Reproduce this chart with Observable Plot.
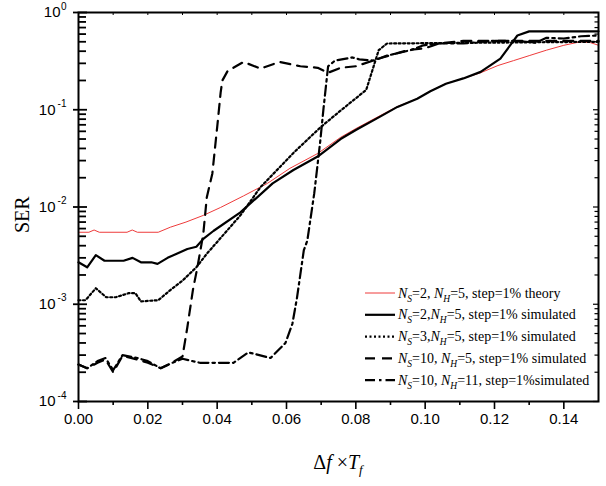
<!DOCTYPE html>
<html><head><meta charset="utf-8">
<script src="https://cdn.jsdelivr.net/npm/d3@7"></script>
<script src="https://cdn.jsdelivr.net/npm/@observablehq/plot@0.6"></script>
<style>body{margin:0;background:#fff}</style>
</head><body><div id="chart"></div>
<script>
// ---- data ----
const theoryX = [0, 0.003, 0.0045, 0.006, 0.014, 0.0155, 0.017, 0.023, 0.0265, 0.031, 0.036, 0.041, 0.0476, 0.0545, 0.061, 0.069, 0.0756, 0.080, 0.087, 0.092, 0.0977, 0.1015, 0.106, 0.111, 0.116, 0.121, 0.1255, 0.130, 0.135, 0.140, 0.1448, 0.1477, 0.150];
const theoryY = [5.5e-3, 5.5e-3, 5.8e-3, 5.5e-3, 5.5e-3, 5.8e-3, 5.5e-3, 5.5e-3, 6.2e-3, 7.0e-3, 8.2e-3, 9.9e-3, 0.013, 0.0175, 0.025, 0.0355, 0.052, 0.064, 0.087, 0.108, 0.13, 0.156, 0.186, 0.21, 0.24, 0.285, 0.32, 0.36, 0.41, 0.46, 0.50, 0.49, 0.46];

const ns2X = [0, 0.0025, 0.005, 0.0075, 0.013, 0.0156, 0.018, 0.021, 0.0228, 0.0257, 0.0314, 0.034, 0.036, 0.039, 0.0467, 0.056, 0.062, 0.069, 0.0756, 0.080, 0.087, 0.092, 0.0977, 0.1015, 0.106, 0.111, 0.116, 0.1217, 0.1266, 0.130, 0.150];
const ns2Y = [2.7e-3, 2.4e-3, 3.2e-3, 2.8e-3, 2.8e-3, 3.0e-3, 2.7e-3, 2.7e-3, 2.6e-3, 3.0e-3, 3.7e-3, 3.9e-3, 4.7e-3, 5.7e-3, 8.8e-3, 0.0175, 0.024, 0.033, 0.050, 0.062, 0.085, 0.107, 0.13, 0.155, 0.185, 0.21, 0.245, 0.336, 0.58, 0.64, 0.64];

const ns3X = [0, 0.002, 0.005, 0.008, 0.0107, 0.0145, 0.0164, 0.018, 0.023, 0.0265, 0.030, 0.034, 0.037, 0.0467, 0.0525, 0.062, 0.0698, 0.0756, 0.078, 0.083, 0.085, 0.0866, 0.089, 0.12, 0.150];
const ns3Y = [1.1e-3, 1.1e-3, 1.46e-3, 1.18e-3, 1.18e-3, 1.3e-3, 1.3e-3, 1.07e-3, 1.1e-3, 1.4e-3, 1.75e-3, 2.4e-3, 3.3e-3, 8.2e-3, 0.016, 0.036, 0.066, 0.098, 0.115, 0.16, 0.27, 0.41, 0.48, 0.49, 0.50];

const ns10h5X = [0, 0.0025, 0.0055, 0.0078, 0.010, 0.0127, 0.017, 0.020, 0.0237, 0.0265, 0.030, 0.0314, 0.033, 0.0343, 0.036, 0.037, 0.0386, 0.040, 0.041, 0.0415, 0.043, 0.0476, 0.0525, 0.058, 0.064, 0.069, 0.072, 0.0756, 0.080, 0.0877, 0.095, 0.100, 0.104, 0.111, 0.150];
const ns10h5Y = [2.4e-4, 2.2e-4, 2.5e-4, 2.7e-4, 2.0e-4, 2.95e-4, 2.7e-4, 2.5e-4, 2.2e-4, 2.45e-4, 2.9e-4, 5.8e-4, 1.4e-3, 2.4e-3, 5.3e-3, 0.0125, 0.022, 0.066, 0.15, 0.2, 0.25, 0.31, 0.265, 0.31, 0.28, 0.27, 0.24, 0.27, 0.28, 0.345, 0.41, 0.43, 0.48, 0.51, 0.51];

const ns10h11X = [0, 0.0025, 0.0055, 0.0078, 0.010, 0.0127, 0.017, 0.020, 0.0237, 0.0265, 0.030, 0.035, 0.040, 0.0447, 0.049, 0.0554, 0.0597, 0.0617, 0.063, 0.065, 0.066, 0.068, 0.069, 0.0698, 0.0707, 0.072, 0.074, 0.079, 0.081, 0.085, 0.089, 0.0958, 0.0995, 0.104, 0.111, 0.119, 0.1266, 0.132, 0.135, 0.140, 0.145, 0.150];
const ns10h11Y = [2.4e-4, 2.2e-4, 2.6e-4, 2.8e-4, 2.1e-4, 3.0e-4, 2.8e-4, 2.6e-4, 2.2e-4, 2.45e-4, 2.75e-4, 2.5e-4, 2.5e-4, 2.5e-4, 3.2e-4, 2.8e-4, 4.0e-4, 6.3e-4, 1.15e-3, 3.6e-3, 4.5e-3, 0.0138, 0.028, 0.05, 0.105, 0.28, 0.32, 0.345, 0.33, 0.32, 0.36, 0.41, 0.46, 0.48, 0.48, 0.51, 0.51, 0.49, 0.55, 0.54, 0.57, 0.58];

const xMajor = [0, 0.02, 0.04, 0.06, 0.08, 0.10, 0.12, 0.14];
const xMinor = [0.01, 0.03, 0.05, 0.07, 0.09, 0.11, 0.13];
const yMajor = [1e-4, 1e-3, 1e-2, 1e-1, 1];
const yExponents = ["-4", "-3", "-2", "-1", "0"];
const yMinor = [1e-4, 1e-3, 1e-2, 1e-1].flatMap(d => [2,3,4,5,6,7,8,9].map(m => m * d));

const legendLabels = [
  "N_S=2, N_H=5, step=1% theory",
  "N_S=2,N_H=5, step=1% simulated",
  "N_S=3,N_H=5, step=1% simulated",
  "N_S=10, N_H=5, step=1% simulated",
  "N_S=10, N_H=11, step=1%simulated"
];

// ---- styles ----
const seriesData = [[theoryX, theoryY], [ns2X, ns2Y], [ns3X, ns3Y], [ns10h5X, ns10h5Y], [ns10h11X, ns10h11Y]];
const styles = [
  {stroke: "#ee3b3b", strokeWidth: 1, dash: null},
  {stroke: "#000", strokeWidth: 2.2, dash: null},
  {stroke: "#000", strokeWidth: 2.2, dash: "2,2.5"},
  {stroke: "#000", strokeWidth: 2.2, dash: "10,7"},
  {stroke: "#000", strokeWidth: 2.2, dash: "10,4,2.5,4"}
];

const W = 606, H = 486, mL = 78, mR = 8, mT = 12, mB = 85;
const FW = W - mL - mR, FH = H - mT - mB;
const SERIF = "'Liberation Serif', 'Times New Roman', serif";

const lineMarks = seriesData.map(([xs, ys], i) => Plot.line(xs.map((x, j) => ({x, y: ys[j]})), {
  x: "x", y: "y", stroke: styles[i].stroke, strokeWidth: styles[i].strokeWidth,
  strokeDasharray: styles[i].dash, strokeLinejoin: "round", curve: "linear"
}));

const chart = Plot.plot({
  width: W, height: H,
  marginLeft: mL, marginRight: mR, marginTop: mT, marginBottom: mB,
  style: {fontFamily: "Liberation Sans", background: "#fff", color: "#000"},
  x: {domain: [0, 0.15], axis: null},
  y: {type: "log", domain: [1e-4, 1], axis: null},
  marks: [
    ...lineMarks,
    // bottom ticks (outward)
    Plot.tickX(xMajor, {x: d => d, insetTop: FH, insetBottom: -8, strokeWidth: 1.6}),
    Plot.tickX(xMinor, {x: d => d, insetTop: FH, insetBottom: -4, strokeWidth: 1.6}),
    // top ticks (inward)
    Plot.tickX([...xMajor, ...xMinor], {x: d => d, insetBottom: FH - 3, strokeWidth: 1}),
    // left ticks
    Plot.tickY(yMajor, {y: d => d, insetLeft: -5, insetRight: FW - 9, strokeWidth: 1.8}),
    Plot.tickY(yMinor, {y: d => d, insetRight: FW - 8, strokeWidth: 1.8}),
    // right ticks (inward)
    Plot.tickY(yMajor, {y: d => d, insetLeft: FW - 5, strokeWidth: 1.2}),
    Plot.tickY(yMinor, {y: d => d, insetLeft: FW - 3.5, strokeWidth: 1.2}),
    Plot.frame({stroke: "#000", strokeWidth: 2}),
    // x tick labels
    Plot.text(xMajor, {x: d => d, text: d => d3.format(".2f")(d), frameAnchor: "bottom", dy: 22, fontSize: 15, fill: "#000"}),
    // y tick labels: base and exponent
    Plot.text(yMajor.filter(d => d < 1), {y: d => d, text: () => "10", frameAnchor: "left", textAnchor: "end", dx: -23, fontSize: 15, fill: "#000"}),
    Plot.text(yMajor.filter(d => d === 1), {y: d => d, text: () => "10", frameAnchor: "left", textAnchor: "end", dx: -18, fontSize: 15, fill: "#000"}),
    Plot.text(yMajor, {y: d => d, text: (d, i) => yExponents[i], frameAnchor: "left", textAnchor: "end", dx: -12, dy: -6, fontSize: 10, fill: "#000"}),
    // y title
    Plot.text(["SER"], {text: d => d, frameAnchor: "left", rotate: -90, dx: -56, dy: 26, fontSize: 20, fontFamily: SERIF, fill: "#000"})
  ]
});
document.getElementById("chart").appendChild(chart);

// ---- x title and legend (rich text with subscripts) ----
const svg = d3.select(chart);
const xt = svg.append("text")
  .attr("x", mL + FW / 2).attr("y", 469)
  .attr("text-anchor", "middle")
  .style("font-family", SERIF).style("font-size", "20px").attr("fill", "#000");
xt.append("tspan").text("\u0394");
xt.append("tspan").style("font-style", "italic").text("f");
xt.append("tspan").text(" \u00d7");
xt.append("tspan").style("font-style", "italic").text("T");
xt.append("tspan").style("font-style", "italic").style("font-size", "13px").attr("dy", 5).text("f");

const lg = svg.append("g").attr("fill", "#000");
legendLabels.forEach((label, i) => {
  const yy = 293 + i * 21.8;
  const s = styles[i];
  lg.append("line").attr("x1", 365).attr("x2", 395).attr("y1", yy).attr("y2", yy)
    .attr("stroke", s.stroke).attr("stroke-width", s.strokeWidth)
    .attr("stroke-dasharray", s.dash);
  const t = lg.append("text").attr("x", 398).attr("y", yy + 4.5)
    .attr("text-anchor", "start")
    .style("font-family", SERIF).style("font-size", "14px");
  const parts = label.split(/(N_[SH])/).filter(p => p.length);
  let pending = 0;
  parts.forEach(p => {
    if (/^N_[SH]$/.test(p)) {
      const n = t.append("tspan").style("font-style", "italic").text("N");
      if (pending) n.attr("dy", pending);
      t.append("tspan").style("font-style", "italic").style("font-size", "9.5px").attr("dy", 4).text(p[2]);
      pending = -4;
    } else {
      const sp = t.append("tspan").text(p);
      if (pending) sp.attr("dy", pending);
      pending = 0;
    }
  });
});
</script>
</body></html>
